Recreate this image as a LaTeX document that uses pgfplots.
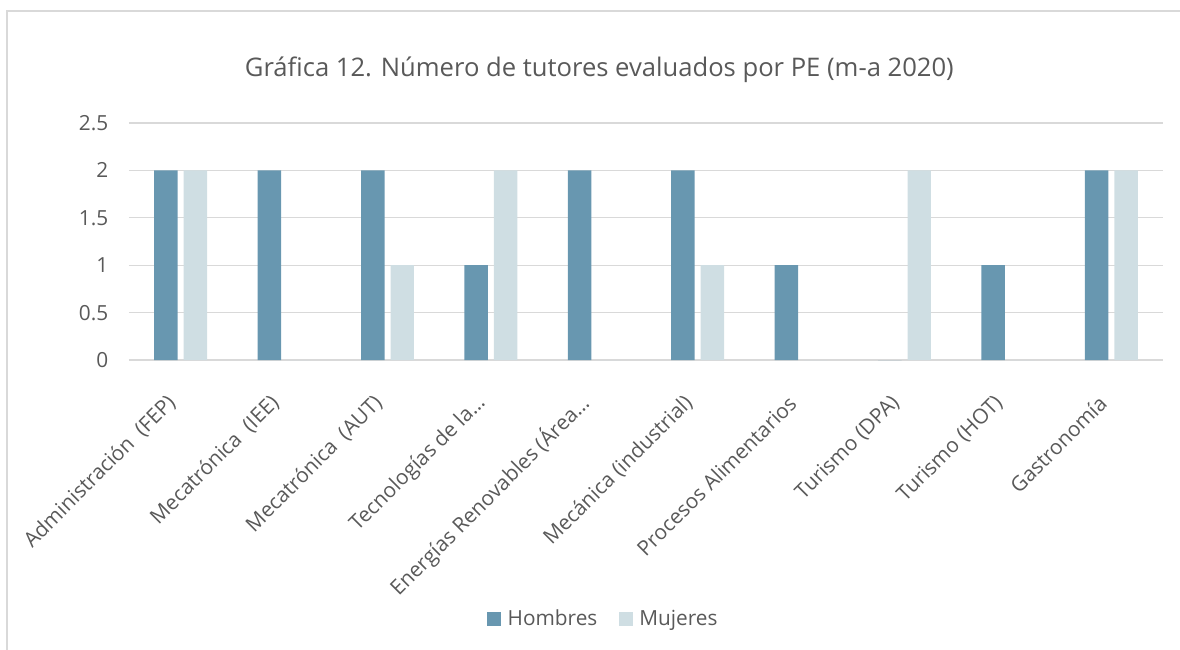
\documentclass[border=0pt]{standalone}
\usepackage{fontspec}
\setmainfont{Open Sans}
\usepackage{pgfplots}
\pgfplotsset{compat=1.18}
\definecolor{hcol}{HTML}{6897B0}
\definecolor{mcol}{HTML}{CFDEE3}
\definecolor{txt}{HTML}{595959}
\definecolor{grd}{HTML}{D9D9D9}
\begin{document}
\begin{tikzpicture}
\useasboundingbox (0,0) rectangle (885pt,-486.75pt);
\draw[grd, line width=1pt] (5.25pt,-500pt) -- (5.25pt,-8.25pt) -- (900pt,-8.25pt);
\node[anchor=base, text=txt, font=\fontsize{19.2}{23}\selectfont] at (449.5pt,-57.75pt) {Gráfica 12. Número de tutores evaluados por PE (m-a 2020)};
\begin{axis}[
  at={(96.75pt,-270pt)}, anchor=south west,
  scale only axis, width=775.5pt, height=177.75pt,
  ybar=4.5pt, bar width=17.6pt,
  xmin=-0.5, xmax=9.5, ymin=0, ymax=2.5,
  ytick={0,0.5,...,2.5},
  yticklabels={0,0.5,1,1.5,2,2.5},
  xtick=data,
  xticklabels={Administración\ \ (FEP), Mecatrónica\ \ (IEE), Mecatrónica\ \ (AUT), Tecnologías de la…, Energías Renovables (Área…, Mecánica (industrial), Procesos Alimentarios, Turismo (DPA), Turismo (HOT), Gastronomía},
  axis line style={draw=none},
  major tick length=0pt,
  ymajorgrids, grid style={grd, line width=1pt},
  tick label style={text=txt, font=\fontsize{15.6}{18}\selectfont},
  /pgf/number format/assume math mode=true,
  yticklabel style={anchor=east, xshift=-12pt},
  xticklabel style={rotate=45, anchor=east, xshift=-22.1pt, yshift=-16.5pt},
  legend style={at={(0.459,-1.093)}, anchor=center, draw=none, legend columns=2,
    font=\fontsize{15.6}{18}\selectfont, text=txt,
    /tikz/every odd column/.append style={column sep=3pt},
    /tikz/every even column/.append style={column sep=14pt}},
  legend image code/.code={\fill[#1] (0pt,-4.9pt) rectangle (10.5pt,5.6pt);},
]
\addplot[fill=hcol, draw=none] coordinates {(0,2) (1,2) (2,2) (3,1) (4,2) (5,2) (6,1) (7,0) (8,1) (9,2)};
\addplot[fill=mcol, draw=none] coordinates {(0,2) (1,0) (2,1) (3,2) (4,0) (5,1) (6,0) (7,2) (8,0) (9,2)};
\legend{Hombres, Mujeres}
\end{axis}
\end{tikzpicture}
\end{document}
